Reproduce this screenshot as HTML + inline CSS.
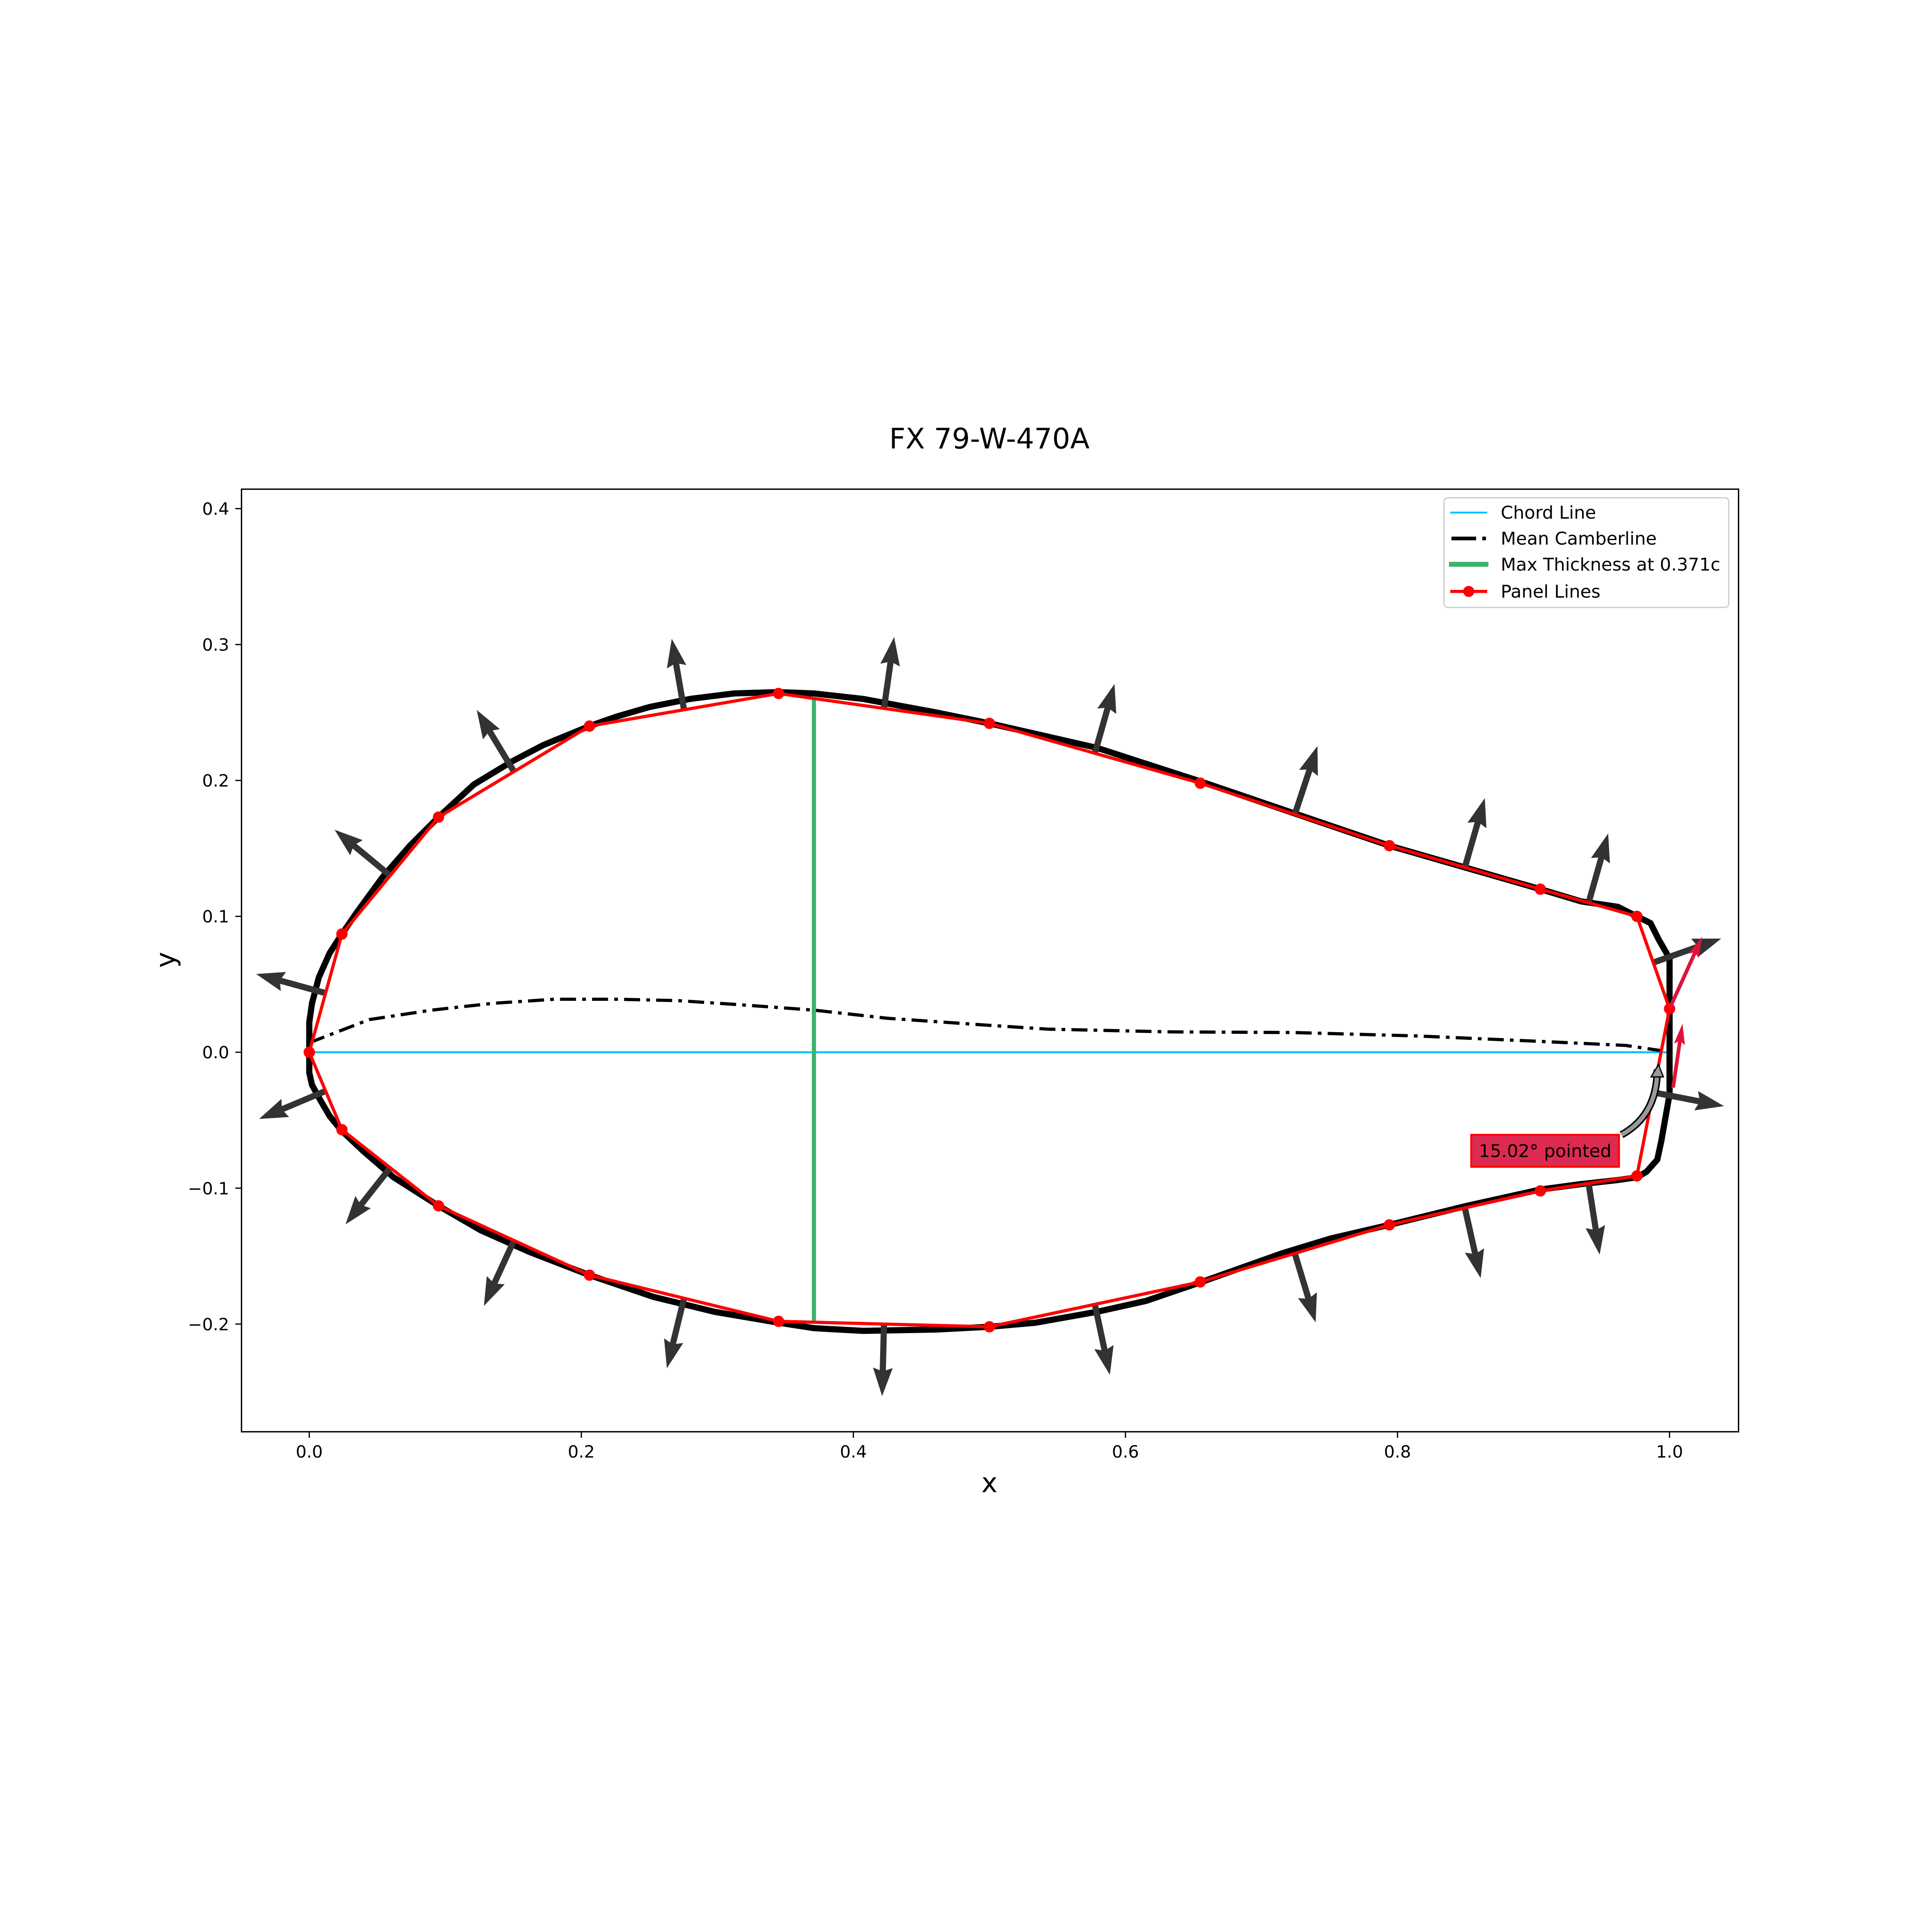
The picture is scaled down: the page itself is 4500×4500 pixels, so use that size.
<!DOCTYPE html>
<html><head><meta charset="utf-8"><title>FX 79-W-470A</title>
<style>html,body{margin:0;padding:0;background:#fff}svg{display:block}text{font-family:"DejaVu Sans","Liberation Sans",sans-serif}</style>
</head><body>
<svg id="chart" xmlns="http://www.w3.org/2000/svg" width="4500" height="4500" viewBox="0 0 1568 1568">
<rect width="1568" height="1568" fill="#fff"/>
<text x="803" y="364" font-size="23" text-anchor="middle">FX 79-W-470A</text>
<g id="plot"></g>
<rect x="196" y="397" width="1215" height="765" fill="none" stroke="#000" stroke-width="1.1"/>
<g id="ticks"></g>
<text x="803" y="1211" font-size="22" text-anchor="middle">x</text>
<text x="142" y="779" font-size="22" text-anchor="middle" transform="rotate(-90 142 779)">y</text>
<g>
<path d="M1316,921 Q1345,905 1345,868" fill="none" stroke="#000" stroke-width="6"/>
<path d="M1316,921 Q1345,905 1345,868" fill="none" stroke="#999" stroke-width="3.5"/>
<path d="M1340,874 L1346,864 L1350,874 Z" fill="#999" stroke="#000" stroke-width="1"/>
<rect x="1194" y="921" width="120" height="26" fill="#dc2a50" stroke="#ff0000" stroke-width="1.5"/>
<text x="1254" y="939" font-size="14.4" text-anchor="middle">15.02° pointed</text>
</g>
<g>
<rect x="1172" y="404" width="231" height="89" rx="3" fill="#fff" fill-opacity="0.8" stroke="#ccc" stroke-width="1"/>
<line x1="1177" y1="416" x2="1207" y2="416" stroke="#00bfff" stroke-width="1.5"/>
<text x="1218" y="421" font-size="14.4">Chord Line</text>
<line x1="1178" y1="437" x2="1198" y2="437" stroke="#000" stroke-width="3"/><line x1="1203" y1="437" x2="1206" y2="437" stroke="#000" stroke-width="3"/>
<text x="1218" y="442" font-size="14.4">Mean Camberline</text>
<line x1="1176" y1="458" x2="1208" y2="458" stroke="#3cb371" stroke-width="4"/>
<text x="1218" y="463" font-size="14.4">Max Thickness at 0.371c</text>
<line x1="1177" y1="480" x2="1207" y2="480" stroke="#f00" stroke-width="2.5"/><circle cx="1192" cy="480" r="4.5" fill="#f00"/>
<text x="1218" y="485" font-size="14.4">Panel Lines</text>
</g>
</svg>
<script>
const xTicks=[0.0,0.2,0.4,0.6,0.8,1.0];
const yTicks=[-0.2,-0.1,0.0,0.1,0.2,0.3,0.4];
const outlineX=[0.976,0.986,0.992,1.0,1.0,1.0,0.994,0.991,0.983,0.976,0.962,0.935,0.905,0.851,0.794,0.751,0.715,0.656,0.615,0.579,0.534,0.5,0.461,0.407,0.371,0.345,0.298,0.253,0.206,0.162,0.126,0.095,0.062,0.040,0.024,0.015,0.008,0.002,0,0,0,0.002,0.007,0.015,0.024,0.035,0.054,0.074,0.095,0.121,0.149,0.172,0.206,0.226,0.250,0.280,0.312,0.345,0.371,0.407,0.461,0.5,0.579,0.656,0.794,0.905,0.935,0.962,0.976];
const outlineY=[0.100,0.095,0.083,0.069,0.032,-0.031,-0.065,-0.079,-0.088,-0.092,-0.094,-0.097,-0.101,-0.113,-0.127,-0.137,-0.148,-0.169,-0.183,-0.191,-0.199,-0.202,-0.204,-0.205,-0.203,-0.199,-0.191,-0.180,-0.164,-0.147,-0.131,-0.113,-0.092,-0.073,-0.058,-0.047,-0.035,-0.024,-0.015,0,0.022,0.036,0.055,0.073,0.087,0.103,0.129,0.152,0.173,0.197,0.214,0.226,0.240,0.247,0.254,0.260,0.264,0.265,0.264,0.260,0.250,0.242,0.224,0.199,0.152,0.120,0.111,0.107,0.100];
const camberX=[0,0.044,0.09,0.135,0.18,0.226,0.271,0.316,0.371,0.425,0.497,0.543,0.633,0.724,0.814,0.905,0.968,0.995];
const camberY=[0.007,0.024,0.031,0.036,0.039,0.039,0.038,0.035,0.031,0.025,0.020,0.017,0.015,0.0145,0.012,0.008,0.005,0.001];
const panelX=[0,0.024,0.095,0.206,0.345,0.5,0.655,0.794,0.905,0.976,1.0,0.976,0.905,0.794,0.655,0.5,0.345,0.206,0.095,0.024,0];
const panelY=[0,0.087,0.173,0.240,0.264,0.242,0.198,0.152,0.120,0.100,0.032,-0.091,-0.102,-0.127,-0.169,-0.202,-0.198,-0.164,-0.113,-0.057,0];
const maxThickX=0.371, maxThickTop=0.260, maxThickBot=-0.198;
const tangentStartX=[1.0,1.0026], tangentStartY=[0.032,-0.026];
const tangentEndX=[1.024,1.0095], tangentEndY=[0.085,0.021];
const normalLen=0.053;
const NS='http://www.w3.org/2000/svg';
const sx=v=>251+1104*v, sy=v=>854-1103*v;
const plot=document.getElementById('plot'), ticks=document.getElementById('ticks');
function mk(tag,attrs,parent){const e=document.createElementNS(NS,tag);for(const k in attrs)e.setAttribute(k,attrs[k]);parent.appendChild(e);return e;}
function pts(xs,ys){return xs.map((x,i)=>sx(x).toFixed(2)+','+sy(ys[i]).toFixed(2)).join(' ');}
xTicks.forEach(v=>{const x=sx(v);
 const l=mk('line',{x1:x,y1:1162,x2:x,y2:1167,stroke:'#000','stroke-width':1},ticks);
 
 
 const t=mk('text',{x:x,y:1183,'font-size':13.8,'text-anchor':'middle'},ticks);t.textContent=v.toFixed(1);
 
 });
yTicks.forEach(v=>{const y=sy(v);
 const l=mk('line',{x1:191,y1:y,x2:196,y2:y,stroke:'#000','stroke-width':1},ticks);
 
 
 const t=mk('text',{x:186,y:y+5,'font-size':13.8,'text-anchor':'end'},ticks);t.textContent=(v<0?'\u2212':'')+Math.abs(v).toFixed(1);
 
 });
const chord=mk('line',{x1:sx(0),y1:sy(0),x2:sx(1),y2:sy(0),stroke:'#00bfff','stroke-width':1.6},plot);


const outline=mk('polyline',{points:pts(outlineX,outlineY),fill:'none',stroke:'#000','stroke-width':5,'stroke-linejoin':'round'},plot);


const camber=mk('polyline',{points:pts(camberX,camberY),fill:'none',stroke:'#000','stroke-width':2.6,'stroke-dasharray':'13,5,3,5'},plot);


const mt=mk('line',{x1:sx(maxThickX),y1:sy(maxThickTop),x2:sx(maxThickX),y2:sy(maxThickBot),stroke:'#3cb371','stroke-width':3.4},plot);


function arrow(x1,y1,x2,y2,color,w,hw,hl,name){
 const dx=x2-x1,dy=y2-y1,L=Math.hypot(dx,dy),ux=dx/L,uy=dy/L,bx=x2-ux*hl,by=y2-uy*hl,px=-uy,py=ux;
 const g=mk('g',{},plot);
 
 
 mk('line',{x1:x1,y1:y1,x2:bx+ux*2,y2:by+uy*2,stroke:color,'stroke-width':w},g);
 mk('polygon',{points:`${x2},${y2} ${bx+px*hw/2-ux*3},${by+py*hw/2-uy*3} ${bx},${by} ${bx-px*hw/2-ux*3},${by-py*hw/2-uy*3}`,fill:color},g);
}
for(let i=0;i<panelX.length-1;i++){
 const dx=panelX[i+1]-panelX[i],dy=panelY[i+1]-panelY[i],L=Math.hypot(dx,dy);
 const nx=-dy/L,ny=dx/L,mx=(panelX[i]+panelX[i+1])/2,my=(panelY[i]+panelY[i+1])/2;
 arrow(sx(mx),sy(my),sx(mx+nx*normalLen),sy(my+ny*normalLen),'#333',5,16,20,'normal-arrow');
}
const panels=mk('polyline',{points:pts(panelX,panelY),fill:'none',stroke:'#f00','stroke-width':2.6},plot);


panelX.forEach((x,i)=>{const c=mk('circle',{cx:sx(x),cy:sy(panelY[i]),r:4.6,fill:'#f00'},plot);
 
 });
tangentStartX.forEach((x,i)=>arrow(sx(x),sy(tangentStartY[i]),sx(tangentEndX[i]),sy(tangentEndY[i]),'#dc143c',3,9,14,'te-tangent-arrow'));
</script>
</body></html>
